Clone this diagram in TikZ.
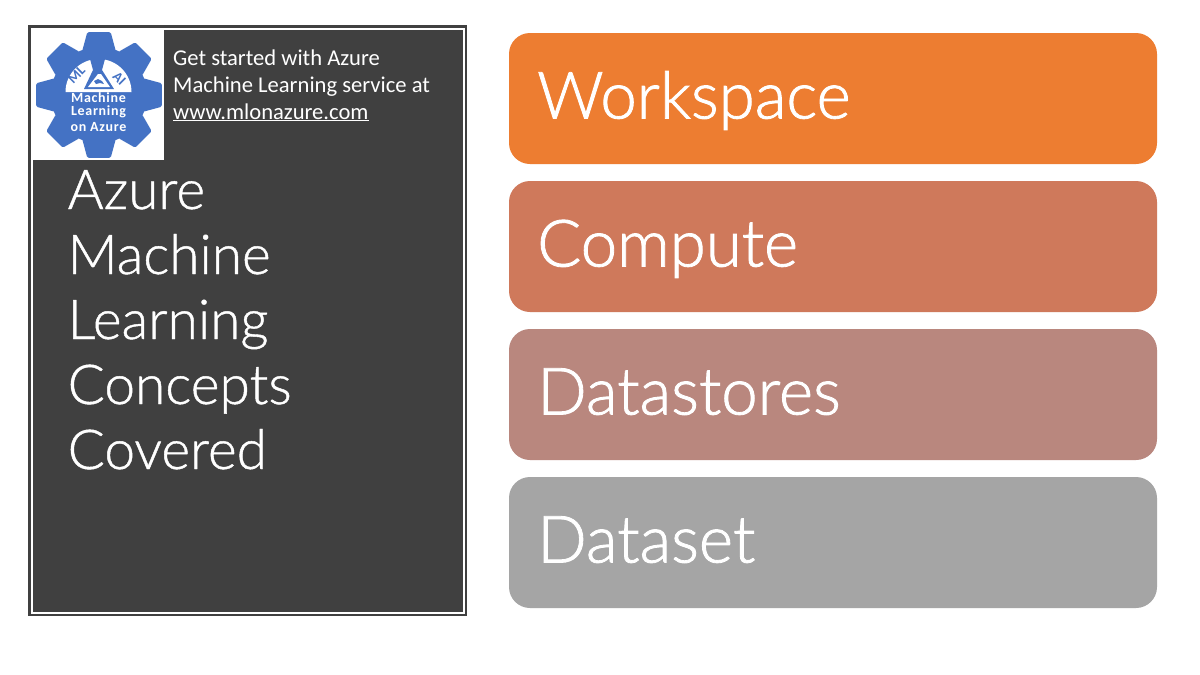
\documentclass[tikz,border=0pt]{standalone}
\usepackage{fontspec}
\setmainfont{Carlito}
\newfontfamily\lightfont[FakeBold=1.3]{Lato Light}
\newfontfamily\titlefont[FakeBold=0.8]{Lato Light}
\definecolor{panel}{HTML}{404040}
\definecolor{gearblue}{HTML}{4472C4}
\definecolor{boxa}{HTML}{ED7D31}
\definecolor{boxb}{HTML}{CF795B}
\definecolor{boxc}{HTML}{B9877E}
\definecolor{boxd}{HTML}{A5A5A5}
\tikzset{
  conceptbox/.style={rounded corners=21pt,draw=none},
  concept/.style={anchor=base west,text=white,inner sep=0pt,font=\lightfont\fontsize{65.3}{66}\selectfont},
  titleline/.style={anchor=base west,text=white,inner sep=0pt,font=\titlefont\fontsize{55}{56}\selectfont},
  smallline/.style={anchor=base west,text=white,inner sep=0pt,font=\fontsize{22.6}{23}\selectfont},
  logotext/.style={text=white,inner sep=0pt,font=\fontsize{14}{14}\selectfont\bfseries\addfontfeature{LetterSpace=5}},
  marktext/.style={text=gearblue,inner sep=0pt,font=\fontsize{14}{14}\selectfont\bfseries},
}
\begin{document}
\begin{tikzpicture}[x=1pt,y=-1pt]
\useasboundingbox (0,0) rectangle (1200,675);
\fill[white] (0,0) rectangle (1200,675);
% panel
\fill[panel] (28,25) rectangle (467,616);
\draw[white,line width=2pt] (32,28.5) rectangle (463.5,613);
% logo
\fill[white] (33,29) rectangle (164,160);
\coordinate (gc) at (99,95);
\foreach \a in {0,45,...,315} {
  \fill[gearblue,rounded corners=1.5pt]
    ([shift={(\a-21:47)}]gc) -- ([shift={(\a-10.5:64)}]gc) -- ([shift={(\a+10.5:64)}]gc) -- ([shift={(\a+21:47)}]gc) -- cycle;
}
\fill[gearblue] (gc) circle (48);
% white dome
\fill[white] (65.5,92) arc[start angle=180,end angle=360,radius=33] -- cycle;
% flask
\fill[gearblue] (90,59) -- (105,59) -- (102,70) -- (114,89) -- (84,89) -- (93,70) -- cycle;
\fill[white] (98,74) -- (101,74) -- (110,87) -- (88,87) -- cycle;
\fill[gearblue] (94,81) -- (98,79) -- (102,81) -- (104,84) -- (100,83) -- (96,84) -- cycle;
\node[marktext,rotate=45] (ml) at (76.5,75) {ML};
\node[marktext,rotate=-45] (ai) at (119.5,78.5) {AI};
\node[logotext] (l1) at (98.5,98) {Machine};
\node[logotext] (l2) at (98.5,112) {Learning};
\node[logotext] (l3) at (98.5,127) {on Azure};
% small text
\node[smallline] (s1) at (173,65) {Get started with Azure};
\node[smallline] (s2) at (173,92) {Machine Learning service at};
\node[smallline] (s3) at (173,119) {\underline{www.mlonazure.com}};
% title
\node[titleline] (t1) at (67.5,209) {Azure};
\node[titleline] (t2) at (67.5,274) {Machine};
\node[titleline] (t3) at (67.5,339) {Learning};
\node[titleline] (t4) at (67.5,404) {Concepts};
\node[titleline] (t5) at (67.5,469) {Covered};
% boxes
\fill[boxa,conceptbox] (509,33) rectangle (1157,164);
\fill[boxb,conceptbox] (509,181) rectangle (1157,312);
\fill[boxc,conceptbox] (509,329) rectangle (1157,460);
\fill[boxd,conceptbox] (509,477) rectangle (1157,608);
\node[concept] (c1) at (537,118.5) {Workspace};
\node[concept] (c2) at (537,266.5) {Compute};
\node[concept] (c3) at (537,414.5) {Datastores};
\node[concept] (c4) at (537,562.5) {Dataset};
\end{tikzpicture}
\end{document}
